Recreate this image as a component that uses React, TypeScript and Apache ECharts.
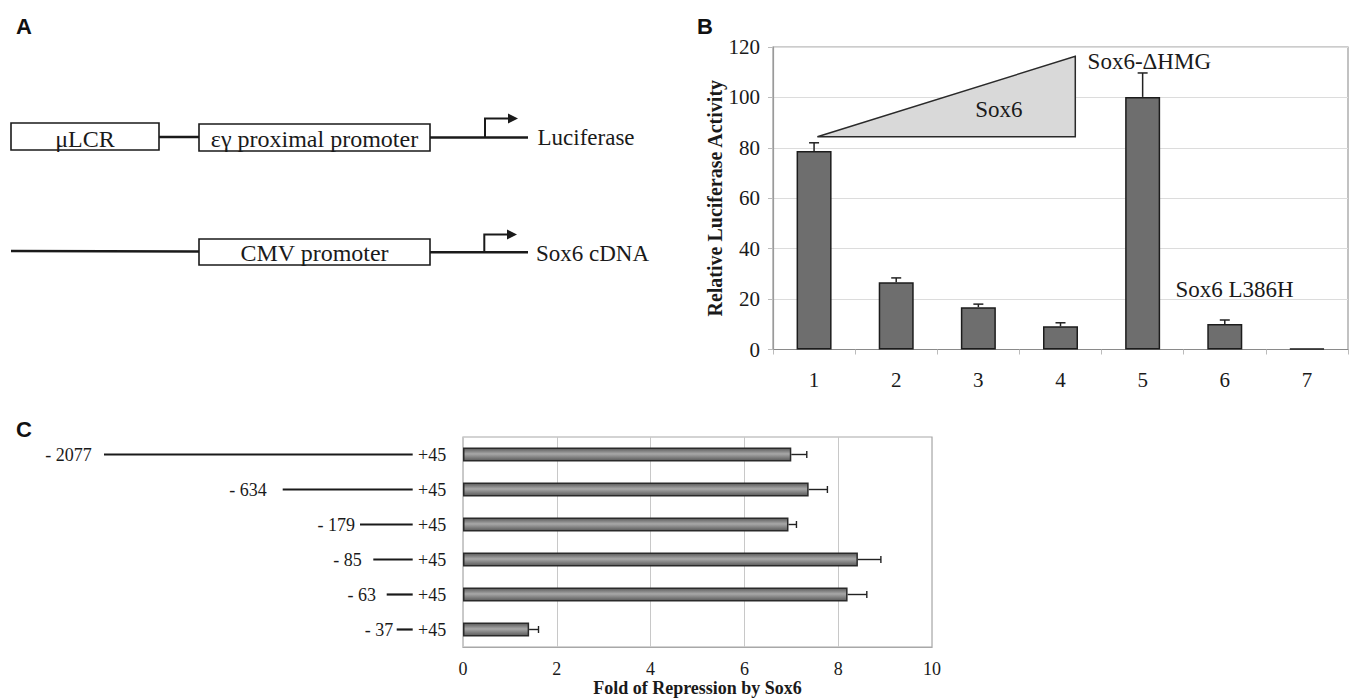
import React, { useEffect, useRef } from 'react';
import * as echarts from 'echarts';

// ---------- Panel B data ----------
const bCategories = ['1', '2', '3', '4', '5', '6', '7'];
const bValues = [78.7, 26.7, 16.8, 9.2, 100.2, 10.1, 0.3];
const bErrorTop = [82.0, 28.4, 18.0, 10.6, 109.7, 11.7, 0.3];
const bYMax = 120;
const bYStep = 20;
// triangle annotation (category index, value)
const bTriangle = [[0.04, 84.4], [3.18, 116.3], [3.18, 84.4]];
const bNotes = ['Sox6', 'Sox6-\u0394HMG', 'Sox6 L386H'];
const bNoteAt = [[2.25, 95.3], [3.33, 114.2], [4.4, 23.9]];
const bNoteAlign = ['center', 'left', 'left'];

// ---------- Panel C data ----------
const cConstructs = ['- 2077', '- 634', '- 179', '- 85', '- 63', '- 37'];
const cEndLabel = '+45';
const cValues = [7.0, 7.37, 6.94, 8.42, 8.2, 1.41];
const cErrorTop = [7.33, 7.77, 7.11, 8.91, 8.61, 1.61];
const cXMax = 10;
const cXStep = 2;

// schematic layout (pixels)
const schemLineStart = [104, 282.7, 360, 373.3, 386.7, 396.7];
const schemLabelRight = [91.7, 266.7, 355, 361.7, 376, 393.3];
const schemLineEnd = 412.7;
const schemEndX = 418;

const SERIF = '"Liberation Serif", "Times New Roman", serif';
const SANS = '"Liberation Sans", Arial, sans-serif';
const INK = '#1a1a1a';

function panelA(): any[] {
  const lw = 2.4;
  const box = { fill: '#fff', stroke: INK, lineWidth: 1.6 };
  const txt = (text: string, x: number, y: number, align = 'center', size = 24) => ({
    type: 'text', x, y,
    style: { text, fill: INK, fontFamily: SERIF, fontSize: size, align, verticalAlign: 'middle' },
  });
  const arrow = (x: number, yBase: number, yTop: number, xEnd: number) => [
    { type: 'polyline', shape: { points: [[x, yBase], [x, yTop], [xEnd - 8, yTop]] }, style: { stroke: INK, lineWidth: 2, fill: 'none' } },
    { type: 'polygon', shape: { points: [[xEnd - 10, yTop - 5], [xEnd, yTop], [xEnd - 10, yTop + 5]] }, style: { fill: INK } },
  ];
  return [
    { type: 'text', x: 16, y: 26, style: { text: 'A', fill: '#111', fontFamily: SANS, fontWeight: 'bold', fontSize: 22, align: 'left', verticalAlign: 'middle' } },
    { type: 'text', x: 697, y: 26, style: { text: 'B', fill: '#111', fontFamily: SANS, fontWeight: 'bold', fontSize: 22, align: 'left', verticalAlign: 'middle' } },
    { type: 'text', x: 16, y: 429, style: { text: 'C', fill: '#111', fontFamily: SANS, fontWeight: 'bold', fontSize: 22, align: 'left', verticalAlign: 'middle' } },
    // row 1
    { type: 'line', shape: { x1: 159, y1: 137, x2: 199, y2: 137 }, style: { stroke: INK, lineWidth: lw } },
    { type: 'line', shape: { x1: 430, y1: 137.5, x2: 528, y2: 137.5 }, style: { stroke: INK, lineWidth: lw } },
    { type: 'rect', shape: { x: 11, y: 123, width: 148, height: 27 }, style: box },
    { type: 'rect', shape: { x: 199, y: 124, width: 231, height: 27 }, style: box },
    txt('\u03bcLCR', 85, 138.5),
    txt('\u03b5\u03b3 proximal promoter', 314.5, 138.5),
    ...arrow(485, 137.5, 118.5, 518),
    txt('Luciferase', 537.5, 137, 'left', 23),
    // row 2
    { type: 'line', shape: { x1: 11, y1: 251, x2: 199, y2: 251.5 }, style: { stroke: INK, lineWidth: lw } },
    { type: 'line', shape: { x1: 430, y1: 252.3, x2: 528, y2: 252.3 }, style: { stroke: INK, lineWidth: lw } },
    { type: 'rect', shape: { x: 199, y: 239, width: 231, height: 26 }, style: box },
    txt('CMV promoter', 314.5, 252.5),
    ...arrow(484.3, 252.3, 234.5, 517),
    txt('Sox6 cDNA', 536, 253, 'left', 23),
  ];
}

export default function App() {
  const ref = useRef<HTMLDivElement>(null);
  useEffect(() => {
    document.body.style.margin = '0';
    document.body.style.overflow = 'hidden';
    if (!ref.current) return;
    const chart = echarts.init(ref.current, undefined, { renderer: 'svg' });
    const cGrad = new echarts.graphic.LinearGradient(0, 0, 0, 1, [
      { offset: 0, color: '#5a5a5a' },
      { offset: 0.45, color: '#a8a8a8' },
      { offset: 1, color: '#5a5a5a' },
    ]);
    const option: any = {
      animation: false,
      backgroundColor: '#fff',
      textStyle: { fontFamily: SERIF, color: INK },
      graphic: panelA(),
      grid: [
        { left: 773, top: 47, width: 575, height: 302.5, show: true, borderColor: '#9a9a9a', borderWidth: 1.2, backgroundColor: 'transparent' },
        { left: 463, top: 437, width: 469, height: 212.5, show: true, borderColor: '#a8a8a8', borderWidth: 1.2, backgroundColor: 'transparent' },
      ],
      xAxis: [
        {
          type: 'category', gridIndex: 0, data: bCategories,
          axisLine: { onZero: false, lineStyle: { color: '#8a8a8a', width: 1.2 } },
          axisTick: { show: true, length: 5, lineStyle: { color: '#bbb' } },
          axisLabel: { fontSize: 21, fontFamily: SERIF, color: INK, margin: 20 },
        },
        { type: 'value', gridIndex: 0, min: -0.5, max: 6.5, show: false },
        {
          type: 'value', gridIndex: 1, min: 0, max: cXMax, interval: cXStep,
          axisLine: { show: true, onZero: false, lineStyle: { color: '#a8a8a8', width: 1.2 } },
          axisTick: { show: false },
          splitLine: { show: true, lineStyle: { color: '#c8c8c8', width: 1 } },
          axisLabel: { fontSize: 18, fontFamily: SERIF, color: INK, margin: 13 },
          name: 'Fold of Repression by Sox6', nameLocation: 'middle', nameGap: 32,
          nameTextStyle: { fontSize: 18, fontWeight: 'bold', fontFamily: SERIF, color: INK },
        },
      ],
      yAxis: [
        {
          type: 'value', gridIndex: 0, min: 0, max: bYMax, interval: bYStep,
          axisLine: { show: true, onZero: false, lineStyle: { color: '#9a9a9a', width: 1.2 } },
          axisTick: { show: true, length: 5, lineStyle: { color: '#bbb' } },
          splitLine: { show: true, lineStyle: { color: '#dcdcdc', width: 1.2 } },
          axisLabel: { fontSize: 21, fontFamily: SERIF, color: INK, margin: 13 },
          name: 'Relative Luciferase Activity', nameLocation: 'middle', nameGap: 47, nameRotate: 90,
          nameTextStyle: { fontSize: 20, fontWeight: 'bold', fontFamily: SERIF, color: INK },
        },
        {
          type: 'category', gridIndex: 1, data: cConstructs, inverse: true,
          axisLine: { show: false, onZero: false }, axisTick: { show: false }, axisLabel: { show: false },
        },
      ],
      series: [
        {
          type: 'bar', xAxisIndex: 0, yAxisIndex: 0, data: bValues, barWidth: 35,
          itemStyle: { color: '#6e6e6e', borderColor: '#1c1c1c', borderWidth: 1.5 },
          silent: true, z: 3,
        },
        {
          type: 'custom', xAxisIndex: 0, yAxisIndex: 0, silent: true, z: 4,
          data: bValues.map((v, i) => [i, v, bErrorTop[i]]),
          encode: { x: 0, y: [1, 2] },
          renderItem: (params: any, api: any) => {
            const s = api.coord([api.value(0), api.value(1)]);
            const e = api.coord([api.value(0), api.value(2)]);
            if (s[1] - e[1] < 1) return null;
            const st = { stroke: '#222', lineWidth: 1.5 };
            return {
              type: 'group', children: [
                { type: 'line', shape: { x1: s[0], y1: s[1], x2: e[0], y2: e[1] }, style: st },
                { type: 'line', shape: { x1: e[0] - 5, y1: e[1], x2: e[0] + 5, y2: e[1] }, style: st },
              ],
            };
          },
        },
        {
          type: 'custom', xAxisIndex: 1, yAxisIndex: 0, silent: true, z: 2, clip: false,
          data: [[bTriangle[0][0], bTriangle[0][1]]],
          renderItem: (params: any, api: any) => ({
            type: 'polygon',
            shape: { points: bTriangle.map((p) => api.coord(p)) },
            style: { fill: '#d9d9d9', stroke: '#2a2a2a', lineWidth: 1.5 },
          }),
        },
        {
          type: 'custom', xAxisIndex: 1, yAxisIndex: 0, silent: true, z: 5, clip: false,
          data: bNoteAt.map((p) => [p[0], p[1]]),
          renderItem: (params: any, api: any) => {
            const i = params.dataIndex;
            const p = api.coord([api.value(0), api.value(1)]);
            return {
              type: 'text', x: p[0], y: p[1],
              style: { text: bNotes[i], fill: INK, fontFamily: SERIF, fontSize: 23, align: bNoteAlign[i], verticalAlign: 'middle' },
            };
          },
        },
        {
          type: 'bar', xAxisIndex: 2, yAxisIndex: 1, data: cValues, barWidth: 14,
          itemStyle: { color: cGrad, borderColor: '#2a2a2a', borderWidth: 1.5 },
          silent: true, z: 3,
        },
        {
          type: 'custom', xAxisIndex: 2, yAxisIndex: 1, silent: true, z: 4,
          data: cValues.map((v, i) => [v, cErrorTop[i], i]),
          encode: { x: [0, 1], y: 2 },
          renderItem: (params: any, api: any) => {
            const s = api.coord([api.value(0), api.value(2)]);
            const e = api.coord([api.value(1), api.value(2)]);
            const st = { stroke: '#222', lineWidth: 1.4 };
            return {
              type: 'group', children: [
                { type: 'line', shape: { x1: s[0], y1: s[1], x2: e[0], y2: e[1] }, style: st },
                { type: 'line', shape: { x1: e[0], y1: e[1] - 3.5, x2: e[0], y2: e[1] + 3.5 }, style: st },
              ],
            };
          },
        },
        {
          type: 'custom', xAxisIndex: 2, yAxisIndex: 1, silent: true, z: 5, clip: false,
          data: cConstructs.map((c, i) => [0, i]),
          encode: { x: 0, y: 1 },
          renderItem: (params: any, api: any) => {
            const i = params.dataIndex;
            const y = api.coord([0, api.value(1)])[1];
            const ts = { fill: INK, fontFamily: SERIF, fontSize: 18, verticalAlign: 'middle' };
            return {
              type: 'group', children: [
                { type: 'text', x: schemLabelRight[i], y, style: { ...ts, text: cConstructs[i], align: 'right' } },
                { type: 'line', shape: { x1: schemLineStart[i], y1: y, x2: schemLineEnd, y2: y }, style: { stroke: INK, lineWidth: 2.2 } },
                { type: 'text', x: schemEndX, y, style: { ...ts, text: cEndLabel, align: 'left' } },
              ],
            };
          },
        },
      ],
    };
    chart.setOption(option);
    return () => chart.dispose();
  }, []);
  return <div ref={ref} style={{ width: 1351, height: 698 }} />;
}
